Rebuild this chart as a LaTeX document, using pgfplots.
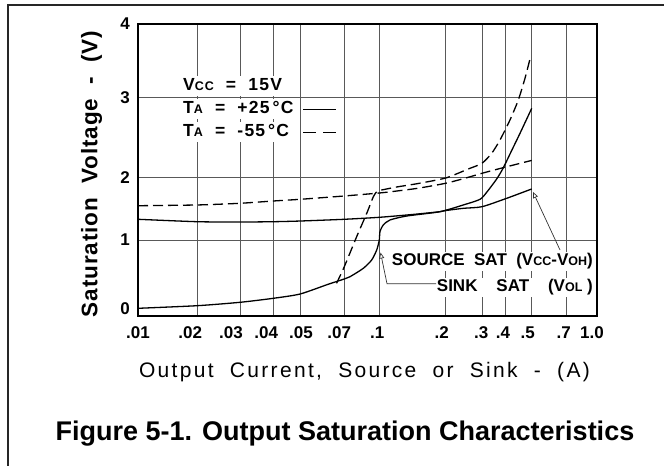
\documentclass[border=0pt]{standalone}
\usepackage{fontspec}
\setmainfont{Liberation Sans}
\newfontfamily\xlabfont[LetterSpace=11]{Liberation Sans}
\newfontfamily\ylabfont[LetterSpace=4]{Liberation Sans}
\newfontfamily\legfont[LetterSpace=7]{Liberation Sans}
\usepackage{pgfplots}
\pgfplotsset{compat=1.18}
\usetikzlibrary{arrows.meta}
\newcommand\sub[1]{{\fontsize{12.5bp}{12.5bp}\selectfont #1}}
% tick label; optional argument = extra kern on the right (shifts the label left by half of it)
\newcommand\tkl[2][0]{\textbf{\fontsize{17bp}{17bp}\selectfont #2\kern#1bp}}

\begin{document}
\begin{tikzpicture}
\useasboundingbox (0,0) rectangle (664bp,466bp);
\begin{axis}[
  at={(138bp,150bp)}, anchor=south west,
  scale only axis, width=459bp, height=292bp,
  x coord trafo/.code={%
    \begingroup
    \pgfkeys{/pgf/fpu=true,/pgf/fpu/output format=fixed}%
    \pgfmathparse{ln(#1)/ln(10)+2}\let\trafoL\pgfmathresult
    \pgfmathparse{196.99*\trafoL + 45.50*max(\trafoL-0.30103,0) + 24.04*max(\trafoL-0.47712,0) + 8.98*max(\trafoL-0.60206,0) + 27.64*max(\trafoL-0.69897,0) - 77.20*max(\trafoL-0.84510,0) - 5.37*max(\trafoL-1,0) - 12.73*max(\trafoL-1.30103,0) - 26.16*max(\trafoL-1.47712,0) + 93.82*max(\trafoL-1.60206,0) - 36.00*max(\trafoL-1.69897,0) - 43.90*max(\trafoL-1.84510,0)}%
    \xdef\trafoout{\pgfmathresult}%
    \endgroup
    \let\pgfmathresult\trafoout},
  y coord trafo/.code={%
    \begingroup
    \pgfkeys{/pgf/fpu=true,/pgf/fpu/output format=fixed}%
    \pgfmathparse{69*(#1) - 7*max((#1)-1,0) + 18*max((#1)-2,0) - 6*max((#1)-3,0)}%
    \xdef\trafoout{\pgfmathresult}%
    \endgroup
    \let\pgfmathresult\trafoout},
  xmin=0.01, xmax=1, ymin=-0.1014, ymax=4,
  xtick={0.01,0.02,0.03,0.04,0.05,0.07,0.1,0.2,0.3,0.4,0.5,0.7,1},
  xticklabels={\tkl{.01},\tkl[14]{.02},\tkl[18]{.03},\tkl[14]{.04},\tkl[-2]{.05},\tkl[10]{.07},\tkl[4]{.1},\tkl[8]{.2},\tkl[2]{.3},\tkl[4]{.4},\tkl[8]{.5},\tkl[6]{.7},\tkl[10]{1.0}},
  ytick={1,2,3,4}, yticklabels={\tkl{1},\tkl{2},\tkl{3},\tkl{4}},
  extra y ticks={0}, extra y tick labels={\tkl{0}}, extra y tick style={grid=none},
  grid=major,
  major grid style={black!65, line width=1bp},
  major tick length=0pt,
  tick style={draw=none},
  axis line style={black, line width=1.3bp},
  xticklabel style={anchor=north, inner sep=0pt, yshift=-10.5bp},
  yticklabel style={anchor=east, inner sep=0pt, xshift=-8bp},
  legend plot pos=right,
  legend cell align=left,
  legend image code/.code={\draw[#1] (0bp,0bp) -- (33bp,0bp);},
  legend style={at={(0.0915,0.822)}, anchor=north west, draw=none, fill=none, inner sep=0pt,
    row sep=3bp, column sep=6bp,
    font=\legfont\bfseries\fontsize{17.5bp}{17.5bp}\selectfont,
    nodes={fill=white, inner xsep=3bp, inner ysep=1.5bp, text height=13bp, text depth=4bp}},
]
\addlegendimage{empty legend}
\addlegendentry{V\sub{CC}\ \ =\ \ 15V}
\addlegendimage{black, line width=1.2bp}
\addlegendentry{T\sub{A}\ \ =\ \ +25\,°C}
\addlegendimage{black, line width=1.2bp, dash pattern=on 13bp off 7bp}
\addlegendentry{T\sub{A}\ \ =\ \ -55\,°C}

% Source saturation, +25 C
\addplot[black, line width=1.3bp, smooth, tension=0.4, forget plot] coordinates {
 (0.01,1.334) (0.02,1.295) (0.03,1.29) (0.04,1.295) (0.05,1.306) (0.07,1.334)
 (0.1,1.366) (0.14,1.41) (0.188,1.456) (0.2,1.475) (0.243,1.511) (0.299,1.537)
 (0.406,1.673) (0.5,1.823)};
% Sink saturation, +25 C
\addplot[black, line width=1.3bp, smooth, tension=0.4, forget plot] coordinates {
 (0.01,0.01) (0.02,0.048) (0.03,0.097) (0.04,0.155) (0.05,0.217) (0.0619,0.358)
 (0.07,0.435) (0.0742,0.468) (0.085,0.59) (0.0925,0.71) (0.0974,0.855) (0.1,1.0)
 (0.1007,1.134) (0.1042,1.242) (0.1118,1.323) (0.1331,1.387) (0.188,1.456)
 (0.243,1.565) (0.2925,1.656) (0.318,1.774) (0.36,1.984) (0.391,2.125)
 (0.423,2.344) (0.4535,2.559) (0.5,2.871)};
% Source saturation, -55 C
\addplot[black, line width=1.3bp, smooth, tension=0.4, dash pattern=on 10bp off 5bp, forget plot] coordinates {
 (0.01,1.553) (0.02,1.565) (0.03,1.592) (0.04,1.629) (0.05,1.656) (0.07,1.71)
 (0.1,1.758) (0.12,1.79) (0.15,1.835) (0.2,1.915) (0.25,2.0) (0.3,2.06)
 (0.4,2.135) (0.5,2.22)};
% Sink saturation, -55 C
\addplot[black, line width=1.3bp, smooth, tension=0.4, dash pattern=on 10bp off 5bp, forget plot] coordinates {
 (0.066,0.372) (0.07,0.613) (0.0794,1.053) (0.088,1.431) (0.0941,1.698)
 (0.0974,1.779) (0.1,1.798) (0.12,1.855) (0.15,1.911) (0.2,2.0) (0.25,2.1)
 (0.2618,2.121) (0.299,2.184) (0.338,2.309) (0.3754,2.475) (0.417,2.725)
 (0.447,2.975) (0.4727,3.266) (0.496,3.568)};
\end{axis}

% annotations
\node[anchor=base east, fill=white, inner sep=1.5bp, font=\bfseries\fontsize{17bp}{17bp}\selectfont]
  at (594.5bp,200.5bp) {SOURCE\ \ SAT\ \ (V\sub{CC}-V\sub{OH})};
\node[anchor=base east, fill=white, inner sep=1.5bp, font=\bfseries\fontsize{17bp}{17bp}\selectfont]
  at (594.5bp,174.5bp) {SINK\ \ \ \ SAT\ \ \ \ (V\sub{OL}\ )};
\draw[line width=0.7bp, black!80, -{Triangle[open, length=6bp, width=5bp]}] (560bp,216bp) -- (533bp,274bp);
\draw[line width=0.7bp, black!80, -{Triangle[open, length=6bp, width=5bp]}] (436bp,182.3bp) -- (387bp,182.3bp) -- (380.5bp,213.5bp);

% axis labels and caption
\node[rotate=90, anchor=base, font=\ylabfont\bfseries\fontsize{22.5bp}{22.5bp}\selectfont]
  at (97.3bp,292bp) {Saturation\ \ Voltage\ \ -\ \ (V)};
\node[anchor=base, font=\xlabfont\fontsize{21bp}{21bp}\selectfont]
  at (364.5bp,88bp) {Output\ \ Current,\ \ Source\ \ or\ \ Sink\ \ -\ \ (A)};
\node[anchor=base, font=\bfseries\fontsize{27bp}{27bp}\selectfont]
  at (345bp,26bp) {Figure 5-1. Output Saturation Characteristics};

% page frame
\draw[line width=1.2bp, black!85] (8bp,0bp) -- (8bp,461bp) -- (664bp,461bp);
\end{tikzpicture}
\end{document}
